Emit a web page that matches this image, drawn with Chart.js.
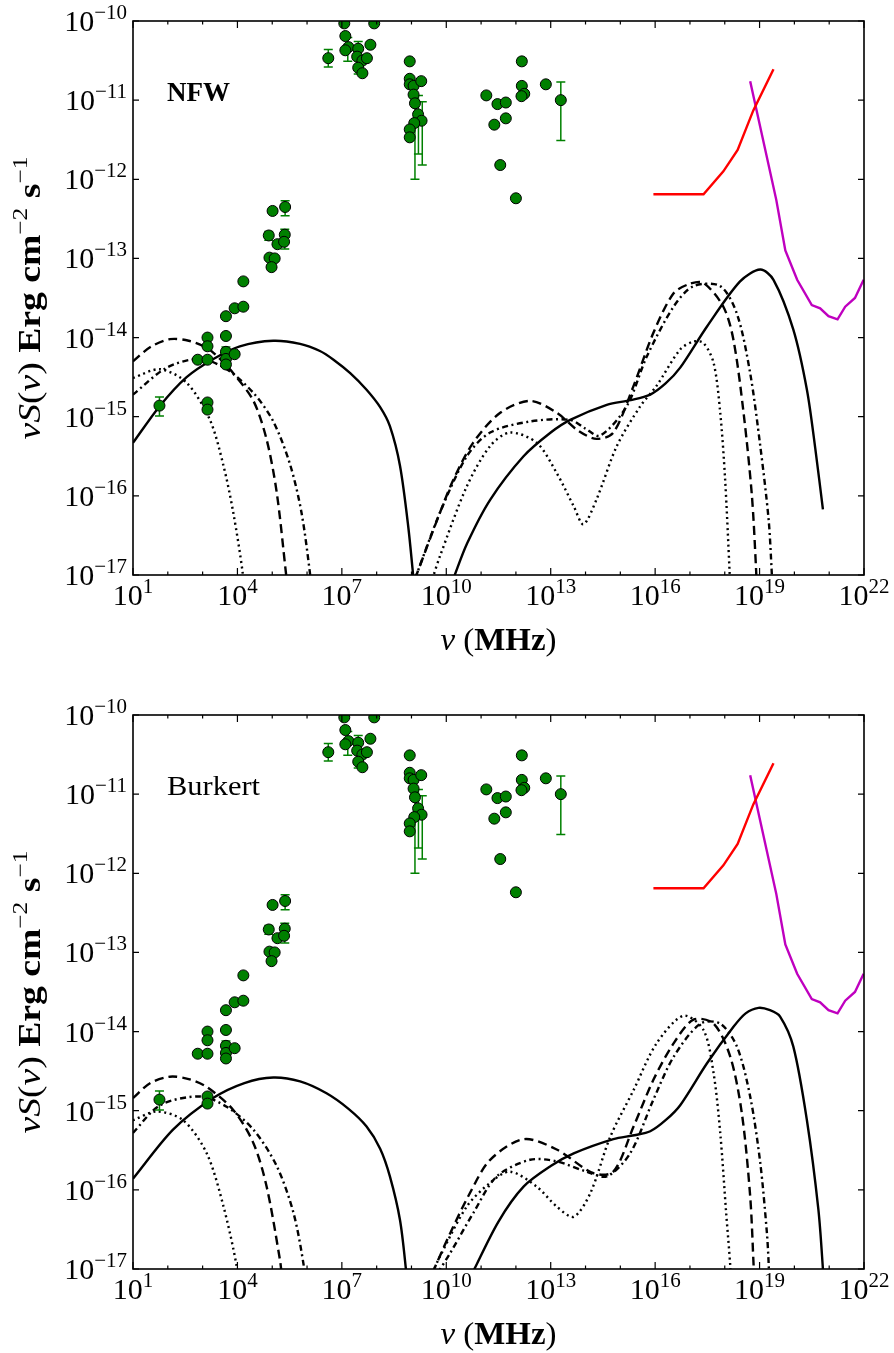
<!DOCTYPE html>
<html>
<head>
<meta charset="utf-8">
<script src="https://cdn.jsdelivr.net/npm/chart.js@4.4.0/dist/chart.umd.min.js"></script>
<style>
  html, body { margin: 0; padding: 0; background: #fff; }
  canvas { position: absolute; left: 0; display: block; }
</style>
</head>
<body>
<canvas id="nfw" width="894" height="694" style="top:0px"></canvas>
<canvas id="burkert" width="894" height="659" style="top:694px"></canvas>
<script>
// all values are log10: [log10 nu (MHz), log10 nuS(nu) (erg cm^-2 s^-1)]

// observed data (green points), same in both panels
const obsPoints = [
  [1.76, -14.86],
  [2.86, -14.28], [3.14, -14.0], [3.14, -14.11], [3.14, -14.28], [3.14, -14.82], [3.14, -14.91],
  [3.67, -13.73], [3.67, -13.98], [3.67, -14.18], [3.67, -14.27], [3.67, -14.34], [3.92, -14.21], [3.92, -13.63],
  [4.17, -13.61], [4.17, -13.29],
  [4.90, -12.71], [5.01, -12.40], [5.37, -12.35], [5.36, -12.70], [5.15, -12.82], [5.34, -12.79], [4.92, -12.99], [5.07, -13.0], [4.98, -13.11],
  [6.61, -10.47], [7.07, -10.03], [7.10, -10.19], [7.19, -10.33], [7.10, -10.37], [7.47, -10.35], [7.44, -10.45],
  [7.59, -10.50], [7.72, -10.47], [7.47, -10.59], [7.59, -10.66], [7.82, -10.30], [7.93, -10.03],
  [8.95, -10.51], [8.95, -10.73], [8.95, -10.80], [9.06, -10.82], [9.28, -10.76], [9.06, -10.93], [9.10, -11.04],
  [9.19, -11.18], [9.29, -11.26], [9.08, -11.29], [8.95, -11.37], [8.95, -11.47],
  [11.15, -10.94], [11.47, -11.05], [11.71, -11.03], [11.38, -11.31], [11.71, -11.23], [11.55, -11.82], [12.0, -12.24],
  [12.17, -10.51], [12.17, -10.82], [12.24, -10.92], [12.16, -10.95], [12.86, -10.80], [13.29, -11.0]
];
// error bars: [log10 nu, low, high]
const obsErrors = [
  [1.76, -14.99, -14.75], [3.67, -14.24, -14.12], [4.90, -12.77, -12.66], [5.37, -12.46, -12.27],
  [5.36, -12.88, -12.63], [6.61, -10.58, -10.36], [7.17, -10.51, -10.21], [7.47, -10.67, -10.26],
  [9.10, -12.0, -11.0], [9.20, -11.68, -10.94], [9.31, -11.82, -11.02], [12.17, -10.55, -10.47],
  [13.29, -11.51, -10.77]
];

// instrument sensitivity curves
const redLimit = [[15.95, -12.19], [17.39, -12.19], [17.96, -11.90], [18.37, -11.63], [18.82, -11.13], [19.40, -10.61]];
const magentaLimit = [[18.73, -10.76], [19.48, -12.26], [19.74, -12.90], [20.08, -13.27], [20.50, -13.59], [20.74, -13.63],
  [20.98, -13.73], [21.24, -13.77], [21.46, -13.61], [21.74, -13.50], [21.99, -13.27]];

// NFW panel model curves
const nfwSolidSync = [[1.0, -15.33], [1.76, -14.87], [2.54, -14.50], [3.31, -14.27], [4.07, -14.11], [5.03, -14.04], [5.80, -14.08],
  [6.37, -14.17], [6.76, -14.28], [7.24, -14.45], [7.71, -14.66], [8.1, -14.88], [8.38, -15.12], [8.67, -15.62], [8.91, -16.40], [9.08, -17.15]];
const nfwSolidIC = [[10.2, -17.05], [10.6, -16.6], [11.26, -16.05], [12.22, -15.50], [13.0, -15.2], [13.56, -15.04], [14.61, -14.85],
  [15.3, -14.79], [15.86, -14.72], [16.3, -14.58], [16.72, -14.38], [17.49, -13.86], [18.44, -13.29], [19.02, -13.14], [19.40, -13.27],
  [19.97, -13.90], [20.36, -14.66], [20.6, -15.4], [20.82, -16.17]];
const nfwDashSync = [[1.0, -14.30], [1.5, -14.12], [2.06, -14.02], [2.6, -14.04], [3.12, -14.13], [3.5, -14.27], [3.88, -14.45],
  [4.46, -14.80], [4.84, -15.29], [5.13, -15.96], [5.40, -17.0], [5.45, -17.2]];
const nfwDashIC = [[9.1, -17.05], [9.82, -16.21], [10.2, -15.8], [10.77, -15.33], [11.55, -14.95], [12.41, -14.80], [13.17, -14.95],
  [13.8, -15.18], [14.32, -15.28], [14.80, -15.20], [15.38, -14.61], [15.95, -13.94], [16.53, -13.44], [17.0, -13.32], [17.39, -13.31],
  [17.96, -13.61], [18.25, -14.03], [18.54, -14.95], [18.78, -16.00], [18.90, -16.93], [18.92, -17.2]];
const nfwDashDotSync = [[1.0, -14.72], [1.97, -14.38], [2.93, -14.27], [3.69, -14.40], [4.46, -14.70], [5.03, -15.06], [5.51, -15.60],
  [5.84, -16.21], [6.09, -17.0], [6.12, -17.2]];
const nfwDashDotIC = [[9.1, -17.05], [9.82, -16.21], [10.59, -15.50], [11.26, -15.20], [12.41, -15.06], [13.56, -15.04], [14.0, -15.15],
  [14.42, -15.24], [15.18, -14.87], [15.76, -14.24], [16.53, -13.61], [17.10, -13.35], [17.87, -13.35], [18.35, -13.70], [18.73, -14.45],
  [19.02, -15.37], [19.26, -16.30], [19.35, -16.97], [19.37, -17.2]];
const nfwDotSync = [[1.0, -14.51], [1.78, -14.40], [2.54, -14.57], [3.21, -15.04], [3.60, -15.62], [3.88, -16.21], [4.15, -16.97], [4.17, -17.2]];
const nfwDotIC = [[9.6, -17.05], [9.82, -16.76], [10.59, -15.88], [11.26, -15.37], [11.83, -15.20], [12.60, -15.33], [13.17, -15.71],
  [13.66, -16.13], [13.94, -16.36], [14.32, -16.04], [14.90, -15.37], [15.57, -14.87], [16.04, -14.61], [16.72, -14.15], [17.1, -14.05],
  [17.39, -14.07], [17.68, -14.32], [17.87, -14.95], [18.01, -15.79], [18.14, -16.97], [18.16, -17.2]];

// Burkert panel model curves
const burSolidSync = [[1.0, -15.86], [2.15, -15.24], [3.30, -14.84], [4.2, -14.65], [5.03, -14.58], [5.8, -14.63], [6.56, -14.78],
  [7.2, -14.98], [7.71, -15.20], [8.1, -15.48], [8.38, -15.83], [8.67, -16.38], [8.84, -17.0], [8.87, -17.2]];
const burSolidIC = [[10.75, -17.05], [11.5, -16.4], [12.22, -15.96], [13.0, -15.7], [13.66, -15.54], [14.80, -15.36], [15.4, -15.31],
  [15.86, -15.26], [16.3, -15.12], [16.72, -14.93], [17.49, -14.40], [18.25, -13.94], [18.6, -13.77], [18.97, -13.70], [19.3, -13.73],
  [19.59, -13.81], [19.97, -14.19], [20.36, -15.12], [20.69, -16.25], [20.82, -17.0], [20.84, -17.2]];
const burDashSync = [[1.0, -14.84], [1.5, -14.65], [2.06, -14.57], [2.6, -14.6], [3.12, -14.70], [3.88, -14.99], [4.46, -15.41],
  [4.84, -15.96], [5.22, -16.88], [5.28, -17.1]];
const burDashIC = [[9.6, -17.05], [10.11, -16.55], [10.68, -16.04], [11.26, -15.62], [12.22, -15.36], [13.17, -15.49], [14.23, -15.79],
  [14.80, -15.77], [15.38, -15.20], [15.95, -14.61], [16.53, -14.15], [17.10, -13.85], [17.68, -13.90], [18.16, -14.32], [18.49, -15.03],
  [18.73, -16.08], [18.83, -16.97], [18.85, -17.2]];
const burDashDotSync = [[1.0, -15.28], [1.78, -14.93], [2.93, -14.82], [3.69, -14.95], [4.46, -15.24], [5.13, -15.70], [5.61, -16.29],
  [5.91, -16.97], [5.94, -17.2]];
const burDashDotIC = [[9.75, -17.05], [10.11, -16.8], [10.78, -16.29], [11.45, -15.83], [12.41, -15.62], [13.17, -15.64], [14.03, -15.77],
  [14.61, -15.83], [15.28, -15.54], [15.95, -14.86], [16.53, -14.32], [17.30, -13.90], [17.87, -13.90], [18.35, -14.19], [18.73, -14.82],
  [19.02, -15.66], [19.21, -16.54], [19.26, -16.92], [19.28, -17.2]];
const burDotSync = [[1.0, -15.12], [1.68, -15.01], [2.44, -15.12], [3.12, -15.54], [3.60, -16.21], [3.98, -16.97], [4.0, -17.2]];
const burDotIC = [[9.6, -17.05], [9.82, -16.84], [10.59, -16.21], [11.26, -15.91], [11.83, -15.77], [12.60, -15.96], [13.17, -16.21],
  [13.66, -16.34], [14.14, -16.04], [14.71, -15.33], [15.38, -14.74], [16.04, -14.15], [16.81, -13.80], [17.39, -13.98], [17.68, -14.53],
  [17.87, -15.28], [18.04, -16.29], [18.16, -16.97], [18.18, -17.2]];

// axis decades
const xTickExps = [1, 4, 7, 10, 13, 16, 19, 22];
const yTickExps = [-17, -16, -15, -14, -13, -12, -11, -10];

const SERIF = '"Liberation Serif", "DejaVu Serif", serif';
const DASH = [9, 5], DASHDOT = [6, 3.5, 2, 3.5], DOT = [2, 3.5];

const toXY = arr => arr.map(p => ({ x: Math.pow(10, p[0]), y: Math.pow(10, p[1]) }));

function lineSet(arr, color, dash, smooth) {
  return {
    data: toXY(arr), showLine: true, borderColor: color, borderWidth: 2.4, borderDash: dash,
    pointRadius: 0, fill: false, clip: 0,
    tension: smooth ? 0.3 : 0
  };
}

// draws a run of text pieces [text, font, dy] side by side
function drawRich(ctx, parts, x, y, align, targetW) {
  let w = 0;
  parts.forEach(p => { ctx.font = p[1]; w += ctx.measureText(p[0]).width; });
  const s = targetW ? targetW / w : 1;
  const W = w * s;
  const x0 = align === 'right' ? x - W : align === 'center' ? x - W / 2 : x;
  ctx.save();
  ctx.translate(x0, y);
  ctx.scale(s, 1);
  ctx.textAlign = 'left';
  ctx.textBaseline = 'alphabetic';
  let cx = 0;
  parts.forEach(p => {
    ctx.font = p[1];
    ctx.fillText(p[0], cx, p[2] || 0);
    cx += ctx.measureText(p[0]).width;
  });
  ctx.restore();
}

function powLabel(e) {
  const exp = e < 0 ? '\u2212' + (-e) : String(e);
  return [['10', '30px ' + SERIF, 0], [exp, '21px ' + SERIF, -12]];
}

const decor = {
  id: 'decor',
  beforeDatasetDraw(chart, args) {
    if (args.index !== 0) return;
    const { ctx, chartArea: a, scales: { x, y } } = chart;
    ctx.save();
    ctx.beginPath(); ctx.rect(a.left, a.top, a.width, a.height); ctx.clip();
    ctx.strokeStyle = '#008000';
    ctx.lineWidth = 1.5;
    obsErrors.forEach(([lx, lo, hi]) => {
      const px = x.getPixelForValue(Math.pow(10, lx));
      const p1 = y.getPixelForValue(Math.pow(10, lo));
      const p2 = y.getPixelForValue(Math.pow(10, hi));
      ctx.beginPath();
      ctx.moveTo(px, p1); ctx.lineTo(px, p2);
      ctx.moveTo(px - 4.5, p1); ctx.lineTo(px + 4.5, p1);
      ctx.moveTo(px - 4.5, p2); ctx.lineTo(px + 4.5, p2);
      ctx.stroke();
    });
    ctx.restore();
  },
  afterDraw(chart, args, opts) {
    const { ctx, chartArea: a, scales: { x, y } } = chart;
    ctx.save();
    ctx.strokeStyle = '#000';
    ctx.fillStyle = '#000';
    // frame
    ctx.lineWidth = 1.6;
    ctx.strokeRect(a.left, a.top, a.width, a.height);
    // ticks, pointing inwards on all sides
    ctx.lineWidth = 1.2;
    for (let d = 1; d <= 22; d++) {
      const px = x.getPixelForValue(Math.pow(10, d));
      const len = xTickExps.includes(d) ? 7 : 3.5;
      ctx.beginPath();
      ctx.moveTo(px, a.bottom); ctx.lineTo(px, a.bottom - len);
      ctx.moveTo(px, a.top); ctx.lineTo(px, a.top + len);
      ctx.stroke();
    }
    yTickExps.forEach(e => {
      const py = y.getPixelForValue(Math.pow(10, e));
      ctx.beginPath();
      ctx.moveTo(a.left, py); ctx.lineTo(a.left + 6, py);
      ctx.moveTo(a.right, py); ctx.lineTo(a.right - 6, py);
      ctx.stroke();
    });
    // tick labels
    xTickExps.forEach(e => {
      drawRich(ctx, powLabel(e), x.getPixelForValue(Math.pow(10, e)), a.bottom + 30, 'center');
    });
    yTickExps.forEach(e => {
      drawRich(ctx, powLabel(e), a.left - 6, y.getPixelForValue(Math.pow(10, e)) + 10, 'right');
    });
    // axis titles
    drawRich(ctx, [['\u03bd', 'italic 31px ' + SERIF], [' (', '31px ' + SERIF], ['MHz', 'bold 31px ' + SERIF], [')', '31px ' + SERIF]],
      (a.left + a.right) / 2, a.bottom + 75, 'center', 116);
    ctx.save();
    ctx.translate(40, (a.top + a.bottom) / 2);
    ctx.rotate(-Math.PI / 2);
    drawRich(ctx, [
      ['\u03bdS', 'italic 31px ' + SERIF], ['(', '31px ' + SERIF], ['\u03bd', 'italic 31px ' + SERIF], [')', '31px ' + SERIF],
      [' Erg cm', 'bold 31px ' + SERIF], ['\u22122', '21px ' + SERIF, -13], [' s', 'bold 31px ' + SERIF], ['\u22121', '21px ' + SERIF, -13]
    ], 0, 0, 'center', 283);
    ctx.restore();
    // panel name
    drawRich(ctx, [[opts.name, (opts.bold ? 'bold ' : '') + '27px ' + SERIF]], a.left + 34, a.top + 80, 'left', opts.nameW);
    ctx.restore();
  }
};

function makePanel(id, name, bold, nameW, curves) {
  const canvas = document.getElementById(id);
  const H = canvas.height;
  const datasets = [{
    data: toXY(obsPoints), showLine: false, pointRadius: 5.5, pointHoverRadius: 5.5,
    pointBackgroundColor: '#008000', pointBorderColor: '#000', pointBorderWidth: 1, clip: 0
  }];
  datasets.push(lineSet(redLimit, '#ff0000', [], false));
  datasets.push(lineSet(magentaLimit, '#bf00bf', [], false));
  curves.forEach(c => datasets.push(lineSet(c[0], '#000', c[1], true)));

  new Chart(canvas, {
    type: 'scatter',
    data: { datasets: datasets },
    options: {
      responsive: false,
      animation: false,
      devicePixelRatio: 1,
      layout: { padding: { left: 0, top: 21, right: 30, bottom: 0 } },
      scales: {
        x: {
          type: 'logarithmic', min: 1e1, max: 1e22,
          ticks: { display: false }, grid: { display: false }, border: { display: false },
          afterFit(s) { s.height = H - 575; }
        },
        y: {
          type: 'logarithmic', min: 1e-17, max: 1e-10,
          ticks: { display: false }, grid: { display: false }, border: { display: false },
          afterFit(s) { s.width = 133; }
        }
      },
      plugins: {
        legend: { display: false },
        tooltip: { enabled: false },
        decor: { name: name, bold: bold, nameW: nameW }
      }
    },
    plugins: [decor]
  });
}

makePanel('nfw', 'NFW', true, 63, [
  [nfwSolidSync, []], [nfwSolidIC, []],
  [nfwDashSync, DASH], [nfwDashIC, DASH],
  [nfwDashDotSync, DASHDOT], [nfwDashDotIC, DASHDOT],
  [nfwDotSync, DOT], [nfwDotIC, DOT]
]);
makePanel('burkert', 'Burkert', false, 93, [
  [burSolidSync, []], [burSolidIC, []],
  [burDashSync, DASH], [burDashIC, DASH],
  [burDashDotSync, DASHDOT], [burDashDotIC, DASHDOT],
  [burDotSync, DOT], [burDotIC, DOT]
]);
</script>
</body>
</html>
